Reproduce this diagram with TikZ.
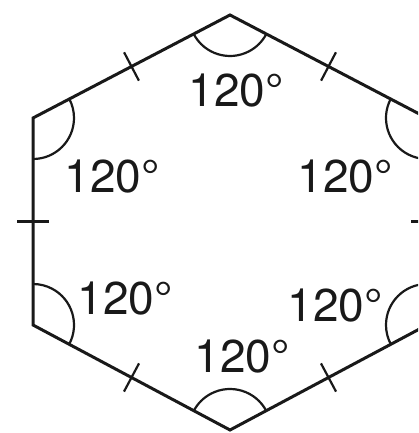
\documentclass[tikz,border=0pt]{standalone}
\usepackage{fontspec}
\setmainfont{TeX Gyre Heros}
\usetikzlibrary{calc}
\begin{document}
\begin{tikzpicture}[
  x=1pt, y=1pt,
  side/.style={draw=black!90, line width=3pt, line join=miter},
  anglearc/.style={draw=black!90, line width=2.2pt},
  tickmark/.style={draw=black!90, line width=2.2pt},
  deg/.style={inner sep=0pt, text=black!90, font=\fontsize{46}{46}\selectfont}
]
  \useasboundingbox (0,0) rectangle (418,433);
  \clip (0,0) rectangle (418,433);
  % corners
  \coordinate (T)  at (230,418);
  \coordinate (UL) at (33,315);
  \coordinate (LL) at (33,108);
  \coordinate (B)  at (230,3);
  \coordinate (LR) at (427,108);
  \coordinate (UR) at (427,315);
  \draw[side] (T) -- (UL) -- (LL) -- (B) -- (LR) -- (UR) -- cycle;
  % angle marks
  \foreach \v/\a/\b in {T/207.6/332.4, UL/-90/27.6, LL/-27.6/90,
                        B/27.6/152.4, LR/90/207.6, UR/152.4/270}
    \draw[anglearc] ([shift={(\a:41)}]\v) arc[start angle=\a, end angle=\b, radius=41];
  % equal sides
  \foreach \p/\q in {T/UL, UL/LL, LL/B, B/LR, LR/UR, UR/T}
    \draw[tickmark] ($(\p)!0.5!(\q)!16pt!90:(\q)$) -- ($(\p)!0.5!(\q)!16pt!-90:(\q)$);
  % labels
  \node[deg] (aT)  at (236,342) {120°};
  \node[deg] (aUL) at (112,256) {120°};
  \node[deg] (aUR) at (345,256) {120°};
  \node[deg] (aLL) at (125,134) {120°};
  \node[deg] (aLR) at (335,127) {120°};
  \node[deg] (aB)  at (242,76)  {120°};
\end{tikzpicture}
\end{document}
